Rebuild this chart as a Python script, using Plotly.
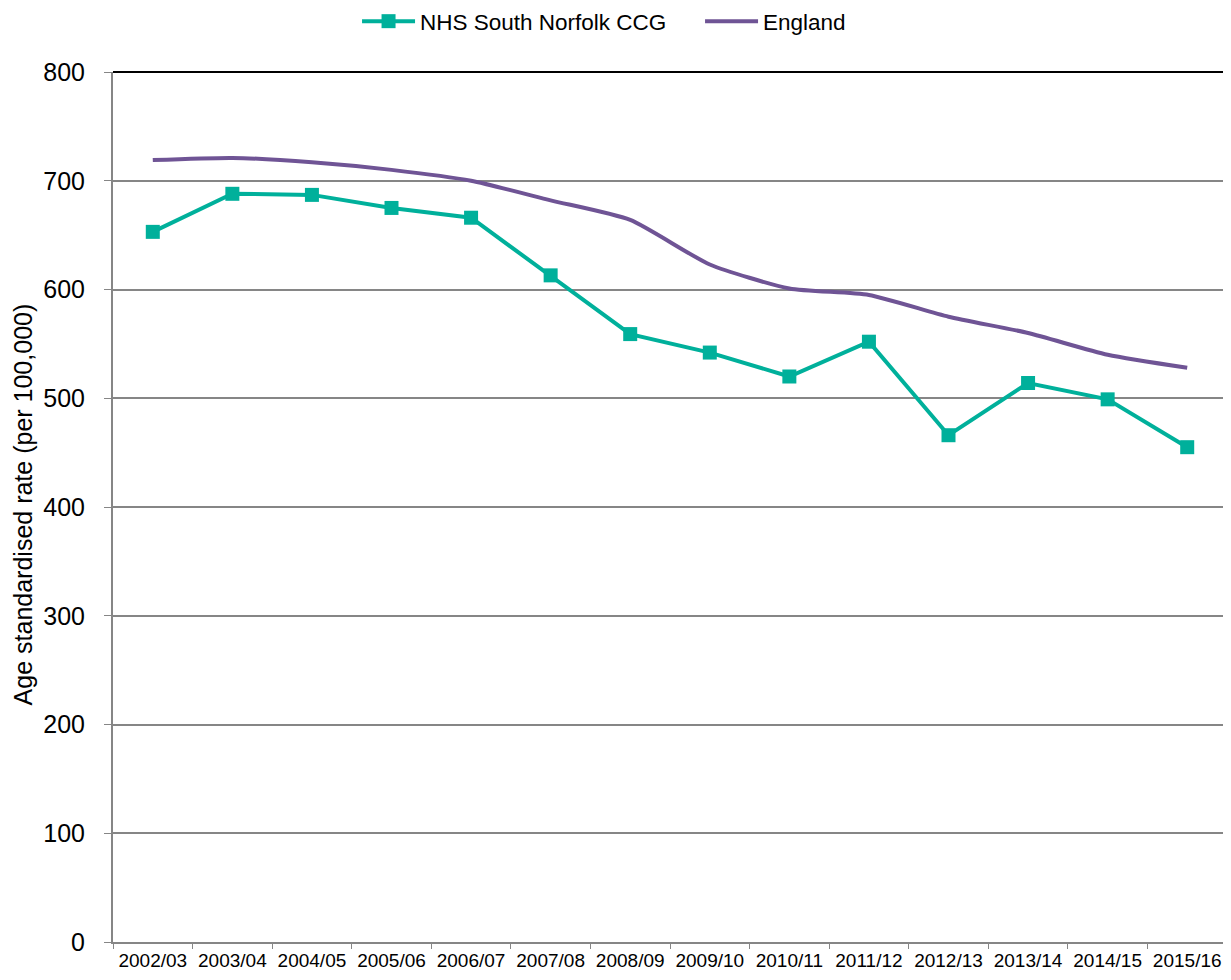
import plotly.graph_objects as go

years = ["2002/03", "2003/04", "2004/05", "2005/06", "2006/07", "2007/08", "2008/09",
         "2009/10", "2010/11", "2011/12", "2012/13", "2013/14", "2014/15", "2015/16"]
nhs_south_norfolk = [653, 688, 687, 675, 666, 613, 559, 542, 520, 552, 466, 514, 499, 455]
england = [719, 721, 717, 710, 700, 682, 664, 623, 601, 595, 575, 560, 540, 528]
y_title = "Age standardised rate (per 100,000)"

TEAL = "#00B09B"
PURPLE = "#6F5495"

fig = go.Figure()
fig.add_trace(go.Scatter(
    x=years, y=nhs_south_norfolk, name="NHS South Norfolk CCG",
    mode="lines+markers",
    line=dict(color=TEAL, width=4),
    marker=dict(symbol="square", size=14, color=TEAL),
))
fig.add_trace(go.Scatter(
    x=years, y=england, name="England",
    mode="lines",
    line=dict(color=PURPLE, width=4, shape="spline", smoothing=0.6),
))

fig.update_layout(
    width=1223, height=972,
    margin=dict(l=105, r=4, t=64, b=38, autoexpand=False),
    paper_bgcolor="white", plot_bgcolor="white",
    font=dict(family="Liberation Sans, Arial, sans-serif", color="black"),
    legend=dict(orientation="h", xref="container", x=0.2854, xanchor="left",
                yref="paper", y=1.058, yanchor="middle", itemwidth=53,
                entrywidth=275,
                font=dict(size=22.5), traceorder="normal"),
    showlegend=True,
)
fig.update_xaxes(
    type="category", range=[-0.5, 13.5], automargin=False,
    tickson="boundaries", ticks="outside", ticklen=5, tickcolor="#868686",
    showline=True, linecolor="#868686", linewidth=2,
    showgrid=False, tickfont=dict(size=19), tickangle=0,
)
fig.update_yaxes(
    range=[0, 800], dtick=100, automargin=False,
    ticks="outside", ticklen=7, tickcolor="#868686", ticklabelstandoff=14,
    showline=True, linecolor="#868686", linewidth=2,
    showgrid=True, gridcolor="#868686", gridwidth=1.5,
    zeroline=False, tickfont=dict(size=25),
)
fig.add_annotation(text=y_title, xref="paper", yref="paper", x=0, y=0.503,
                   xanchor="center", yanchor="middle", xshift=-90, textangle=-90,
                   showarrow=False, font=dict(size=25))
# top and right border lines of the plot area
fig.add_shape(type="line", xref="paper", yref="paper", x0=0, x1=1, y0=1, y1=1,
              line=dict(color="black", width=2))
fig.add_shape(type="line", xref="paper", yref="paper", x0=1, x1=1, y0=0, y1=1,
              line=dict(color="black", width=2))

fig.write_html("out.html")
